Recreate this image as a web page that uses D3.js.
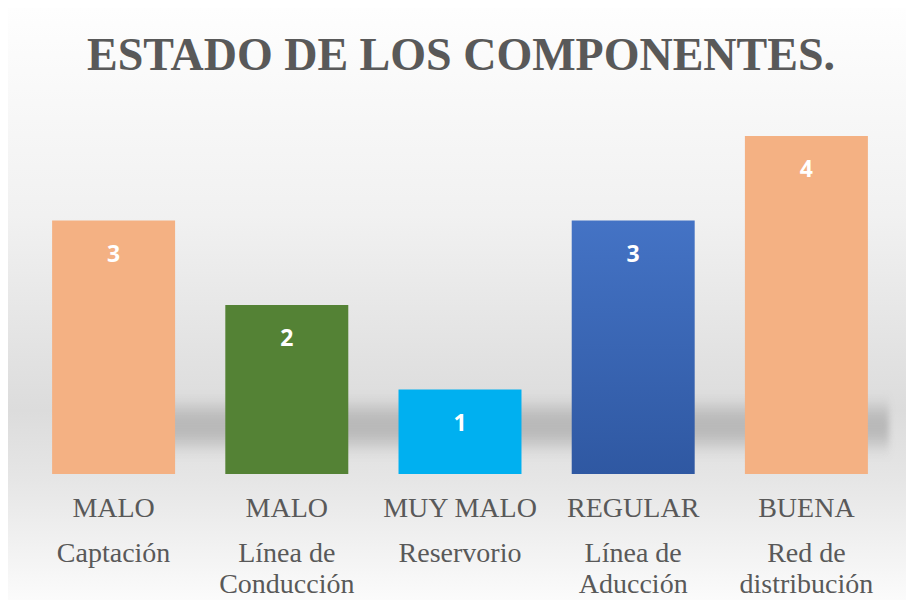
<!DOCTYPE html>
<html lang="es">
<head>
<meta charset="utf-8">
<title>Estado de los componentes</title>
<script src="https://cdn.jsdelivr.net/npm/d3@7"></script>
<style>
  body { margin: 0; background: #ffffff; }
  svg { display: block; }
</style>
</head>
<body>
<script>
// chart data
var estados = ["MALO", "MALO", "MUY MALO", "REGULAR", "BUENA"];
var componentes = [["Captación"], ["Línea de", "Conducción"], ["Reservorio"], ["Línea de", "Aducción"], ["Red de", "distribución"]];
var valores = [3, 2, 1, 3, 4];
var colores = ["#f4b183", "#548235", "#00b0f0", "url(#gradAzul)", "#f4b183"];

var w = 912, h = 600;
var plotTop = 136, plotBottom = 474;
var serif = "'Liberation Serif', 'Times New Roman', 'DejaVu Serif', serif";

var svg = d3.select("body").append("svg")
  .attr("width", w)
  .attr("height", h);

var defs = svg.append("defs");

// background gradient
var bg = defs.append("linearGradient").attr("id", "gradFondo")
  .attr("x1", 0).attr("y1", 0).attr("x2", 0).attr("y2", 1);
bg.append("stop").attr("offset", "0%").attr("stop-color", "#fefefe");
bg.append("stop").attr("offset", "35%").attr("stop-color", "#f1f1f1");
bg.append("stop").attr("offset", "68%").attr("stop-color", "#dcdcdc");
bg.append("stop").attr("offset", "80%").attr("stop-color", "#e6e6e6");
bg.append("stop").attr("offset", "100%").attr("stop-color", "#fbfbfb");

var azul = defs.append("linearGradient").attr("id", "gradAzul")
  .attr("x1", 0).attr("y1", 0).attr("x2", 0).attr("y2", 1);
azul.append("stop").attr("offset", "0%").attr("stop-color", "#4473c5");
azul.append("stop").attr("offset", "100%").attr("stop-color", "#2f58a2");

defs.append("filter").attr("id", "blur")
  .attr("x", "-10%").attr("y", "-50%").attr("width", "120%").attr("height", "200%")
  .append("feGaussianBlur").attr("stdDeviation", "3 9");

svg.append("rect")
  .attr("x", 8).attr("y", 8)
  .attr("width", w - 14).attr("height", h - 8)
  .attr("fill", "url(#gradFondo)");

var x = d3.scaleBand()
  .domain(d3.range(valores.length))
  .range([27, 893])
  .paddingInner(0.29)
  .paddingOuter(0.145);

var y = d3.scaleLinear()
  .domain([0, 4])
  .range([plotBottom, plotTop]);

// floor shadow behind the bars
svg.append("rect")
  .attr("x", x(0) + 20).attr("y", 408)
  .attr("width", 893 - x(0) - 24).attr("height", 36)
  .attr("fill", "#ababab")
  .attr("opacity", 0.75)
  .attr("filter", "url(#blur)");

// title
svg.append("text")
  .attr("x", w / 2 + 5)
  .attr("y", 70)
  .attr("text-anchor", "middle")
  .style("font-family", serif)
  .style("font-weight", "bold")
  .style("font-size", "46px")
  .style("fill", "#595959")
  .text("ESTADO DE LOS COMPONENTES.");

// bars
svg.selectAll("rect.barra")
  .data(valores)
  .enter()
  .append("rect")
  .attr("class", "barra")
  .attr("x", function(d, i) { return x(i); })
  .attr("y", function(d) { return y(d); })
  .attr("width", x.bandwidth())
  .attr("height", function(d) { return plotBottom - y(d); })
  .attr("fill", function(d, i) { return colores[i]; });

// value labels
svg.selectAll("text.valor")
  .data(valores)
  .enter()
  .append("text")
  .attr("class", "valor")
  .attr("x", function(d, i) { return x(i) + x.bandwidth() / 2; })
  .attr("y", function(d) { return y(d) + 41; })
  .attr("text-anchor", "middle")
  .style("font-family", "'Open Sans', 'DejaVu Sans', sans-serif")
  .style("font-weight", "bold")
  .style("font-size", "23px")
  .style("fill", "#ffffff")
  .text(function(d) { return d; });

// category labels
var etiquetas = svg.selectAll("g.etiqueta")
  .data(estados)
  .enter()
  .append("g")
  .attr("class", "etiqueta")
  .attr("transform", function(d, i) { return "translate(" + (x(i) + x.bandwidth() / 2) + ",0)"; })
  .style("font-family", serif)
  .style("font-size", "28px")
  .style("fill", "#595959")
  .attr("text-anchor", "middle");

etiquetas.append("text")
  .attr("y", 517)
  .text(function(d) { return d; });

etiquetas.each(function(d, i) {
  var g = d3.select(this);
  componentes[i].forEach(function(linea, j) {
    g.append("text")
      .attr("y", 562 + j * 31)
      .text(linea);
  });
});
</script>
</body>
</html>
